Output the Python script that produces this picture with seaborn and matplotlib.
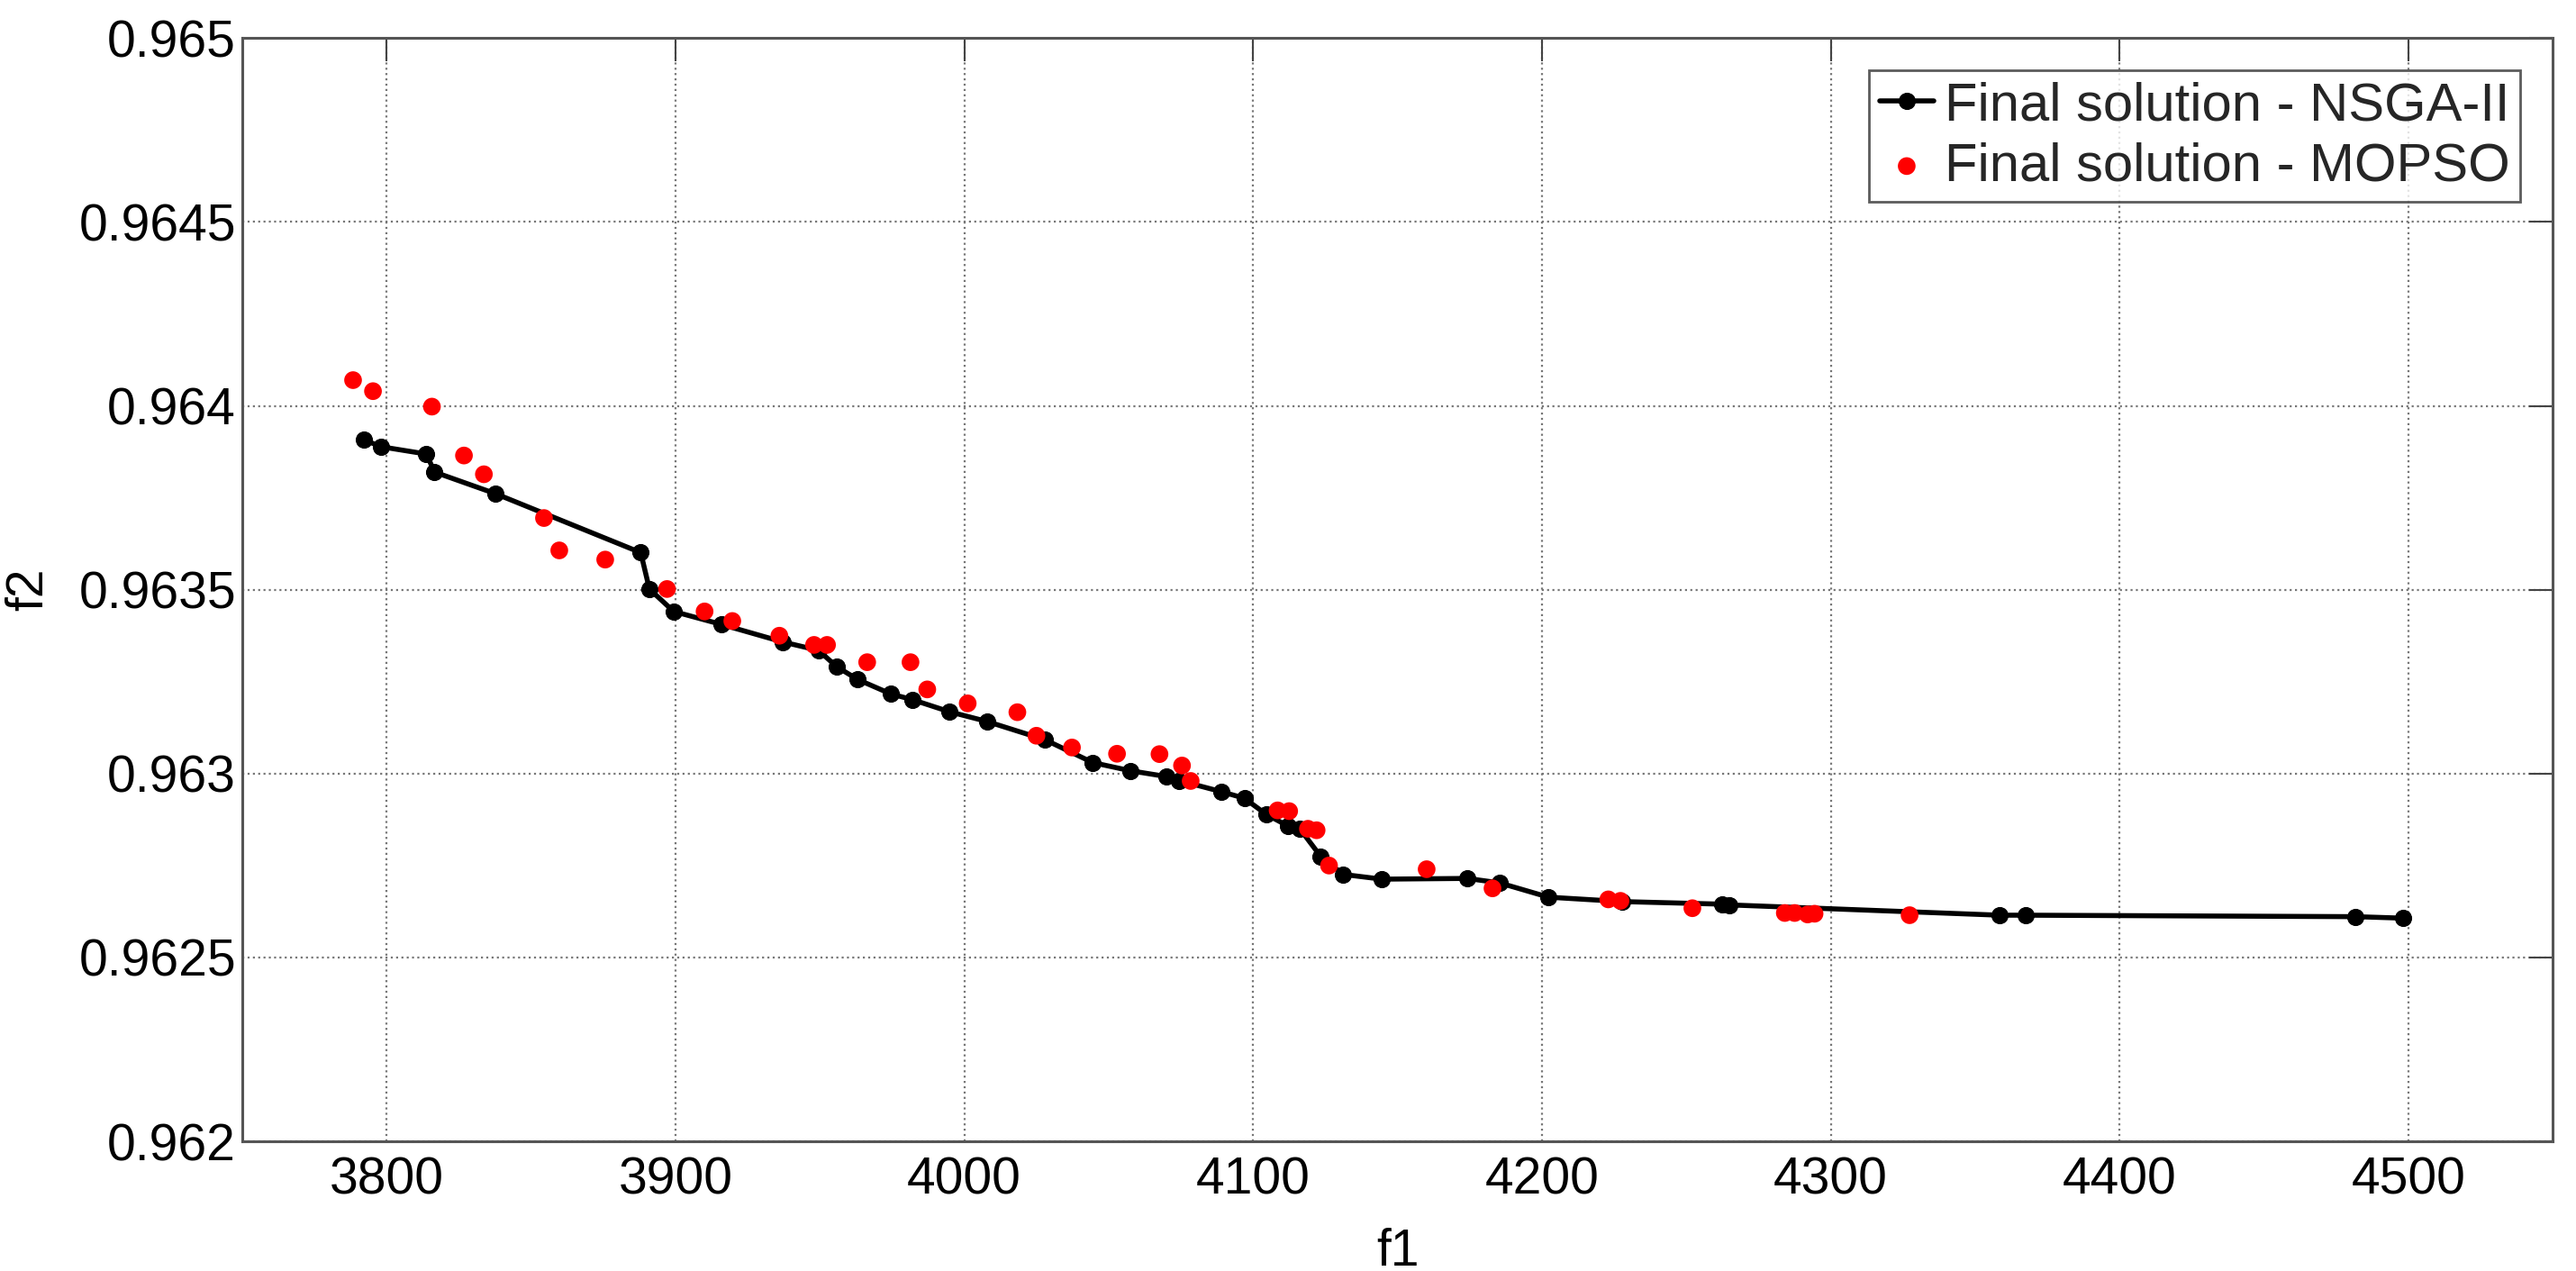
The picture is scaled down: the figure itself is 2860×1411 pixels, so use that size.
import numpy as np
import pandas as pd
import seaborn as sns
import matplotlib.pyplot as plt
from matplotlib.ticker import FormatStrFormatter

# NSGA-II final front
nsga_f1 = [3792.2, 3798.0, 3813.8, 3816.6, 3837.8, 3888.0, 3891.0, 3899.4, 3915.8, 3937.2,
           3949.6, 3955.8, 3963.1, 3974.5, 3982.1, 3995.0, 4007.8, 4028.0, 4044.5, 4057.4,
           4070.0, 4074.5, 4089.0, 4097.0, 4104.6, 4112.0, 4116.2, 4123.4, 4131.1, 4144.6,
           4174.1, 4185.3, 4202.3, 4227.8, 4262.5, 4265.0, 4358.4, 4367.4, 4481.7, 4498.0]
nsga_f2 = [0.963908, 0.963889, 0.963869, 0.963820, 0.963761, 0.963601, 0.963502, 0.963441, 0.963406, 0.963358,
           0.963335, 0.963291, 0.963256, 0.963217, 0.963201, 0.963168, 0.963142, 0.963092, 0.963030, 0.963008,
           0.962992, 0.962981, 0.962951, 0.962933, 0.962889, 0.962858, 0.962850, 0.962775, 0.962726, 0.962713,
           0.962715, 0.962703, 0.962664, 0.962652, 0.962645, 0.962643, 0.962615, 0.962615, 0.962611, 0.962607]

# MOPSO final solutions
mopso_f1 = [3788.4, 3795.3, 3815.7, 3826.8, 3833.7, 3854.5, 3859.8, 3875.7, 3897.1, 3910.1,
            3919.7, 3936.0, 3948.0, 3952.5, 3966.4, 3981.4, 3987.2, 4001.2, 4018.4, 4025.0,
            4037.3, 4052.9, 4067.6, 4075.4, 4078.4, 4108.5, 4112.5, 4119.0, 4122.0, 4126.3,
            4160.1, 4182.9, 4223.0, 4227.2, 4252.1, 4284.1, 4287.5, 4292.0, 4294.4, 4327.3]
mopso_f2 = [0.964070, 0.964040, 0.963998, 0.963865, 0.963814, 0.963695, 0.963607, 0.963582, 0.963502, 0.963441,
            0.963415, 0.963375, 0.963350, 0.963350, 0.963303, 0.963303, 0.963229, 0.963191, 0.963167, 0.963103,
            0.963071, 0.963054, 0.963053, 0.963022, 0.962980, 0.962900, 0.962898, 0.962850, 0.962846, 0.962750,
            0.962740, 0.962688, 0.962658, 0.962654, 0.962634, 0.962621, 0.962621, 0.962617, 0.962619, 0.962615]

x_ticks = [3800, 3900, 4000, 4100, 4200, 4300, 4400, 4500]
y_ticks = [0.962, 0.9625, 0.963, 0.9635, 0.964, 0.9645, 0.965]

nsga = pd.DataFrame({'f1': nsga_f1, 'f2': nsga_f2})
mopso = pd.DataFrame({'f1': mopso_f1, 'f2': mopso_f2})

sns.set_theme(style="white")
plt.rcParams['font.family'] = ['Liberation Sans', 'DejaVu Sans']

fig = plt.figure(figsize=(28.6, 14.11), dpi=100)
fig.patch.set_facecolor((1.0, 1.0, 1.0))
ax = fig.add_axes([0.094, 0.102, 0.897, 0.868])

sns.lineplot(data=nsga, x='f1', y='f2', ax=ax, sort=False, estimator=None,
             color='black', linewidth=4, marker='o', markersize=13,
             markeredgecolor='black', label='Final solution - NSGA-II', zorder=3)
sns.scatterplot(data=mopso, x='f1', y='f2', ax=ax, color='red', s=200,
                edgecolor='none', label='Final solution - MOPSO', zorder=4)

ax.set_xlim(3750, 4550)
ax.set_ylim(0.962, 0.965)
ax.set_xticks(x_ticks)
ax.set_yticks(y_ticks)
ax.yaxis.set_major_formatter(FormatStrFormatter('%g'))

ax.grid(True, linestyle=':', color='#777777', linewidth=1.6)
ax.tick_params(axis='both', which='major', labelsize=41, direction='in',
               length=19, width=1.5, color='#444444', top=True, right=True,
               labelcolor='black')
ax.tick_params(axis='x', pad=12)
ax.tick_params(axis='y', pad=5)
for s in ax.spines.values():
    s.set_color('#555555')
    s.set_linewidth(2.2)

ax.set_xlabel('f1', fontsize=41, color='black', labelpad=18)
ax.set_ylabel('f2', fontsize=41, color='black', labelpad=20)

leg = ax.legend(loc='upper right', fontsize=43, frameon=True, fancybox=False,
                edgecolor='#333333', handlelength=1.0, handletextpad=0.2,
                borderpad=0.2, labelspacing=0.2, borderaxespad=0.6)
leg.get_frame().set_linewidth(2)

fig.savefig('out.png', dpi=100)
